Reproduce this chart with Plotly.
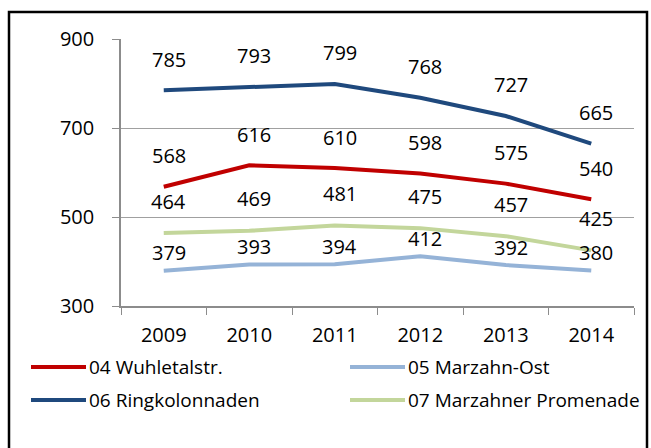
import plotly.graph_objects as go

years = ["2009", "2010", "2011", "2012", "2013", "2014"]
names = ["04 Wuhletalstr.", "05 Marzahn-Ost", "06 Ringkolonnaden", "07 Marzahner Promenade"]
wuhletal = [568, 616, 610, 598, 575, 540]
marzahn_ost = [379, 393, 394, 412, 392, 380]
ringkolonnaden = [785, 793, 799, 768, 727, 665]
promenade = [464, 469, 481, 475, 457, 425]

series = [wuhletal, marzahn_ost, ringkolonnaden, promenade]
colors = ["#C00000", "#95B3D7", "#1F497D", "#C3D69B"]
label_shift = [31, 18, 31, 32]

FONT = "Open Sans, Noto Sans, Liberation Sans, sans-serif"
FS = 20
LEG_FS = 19

W, H = 651, 448
L, R, T, B = 121, 17, 39, 142
pw, ph = W - L - R, H - T - B

def px(x):
    return (x - L) / pw

def py(y):
    return (H - B - y) / ph

fig = go.Figure()
annotations = []
for name, vals, col, sh in zip(names, series, colors, label_shift):
    fig.add_trace(go.Scatter(x=years, y=vals, mode="lines", name=name,
                             line=dict(color=col, width=4), showlegend=False))
    for i, v in enumerate(vals):
        annotations.append(dict(x=i, y=v, text=str(v), showarrow=False,
                                xref="x", yref="y", yshift=sh, xshift=5,
                                font=dict(family=FONT, size=FS, color="#000000")))

# custom legend (two columns, two rows)
leg_pos = [(31, 367), (350, 367), (31, 400), (350, 400)]
shapes = []
for (lx, ly), name, col in zip(leg_pos, names, colors):
    shapes.append(dict(type="line", xref="paper", yref="paper",
                       x0=px(lx), x1=px(lx + 55), y0=py(ly), y1=py(ly),
                       line=dict(color=col, width=4)))
    annotations.append(dict(x=px(lx + 56), y=py(ly), xref="paper", yref="paper",
                            text=name, showarrow=False, xanchor="left", yanchor="middle",
                            font=dict(family=FONT, size=LEG_FS, color="#000000")))

# outer frame
shapes.append(dict(type="rect", xref="paper", yref="paper",
                   x0=px(9), x1=px(647), y0=py(470), y1=py(12),
                   line=dict(color="#000000", width=2.5), fillcolor="rgba(0,0,0,0)",
                   layer="above"))

fig.update_layout(
    width=W, height=H,
    margin=dict(l=L, r=R, t=T, b=B),
    paper_bgcolor="white", plot_bgcolor="white",
    font=dict(family=FONT, size=FS, color="#000000"),
    annotations=annotations, shapes=shapes,
    showlegend=False,
)
fig.update_xaxes(type="category", range=[-0.5, 5.5], showgrid=False,
                 showline=True, linecolor="#8C8C8C", linewidth=1.5,
                 ticks="outside", tickson="boundaries", ticklen=7, tickcolor="#8C8C8C",
                 ticklabelstandoff=10, tickfont=dict(family=FONT, size=FS))
fig.update_yaxes(range=[300, 900], tick0=300, dtick=200, showgrid=True,
                 gridcolor="#A0A0A0", gridwidth=1.2,
                 showline=True, linecolor="#8C8C8C", linewidth=1.5,
                 ticks="outside", ticklen=7, tickcolor="#8C8C8C",
                 ticklabelstandoff=14, zeroline=False, tickfont=dict(family=FONT, size=FS))

fig.write_html("out.html", config={"displayModeBar": False},
               post_script="document.body.style.margin='0';document.body.style.overflow='hidden';")
